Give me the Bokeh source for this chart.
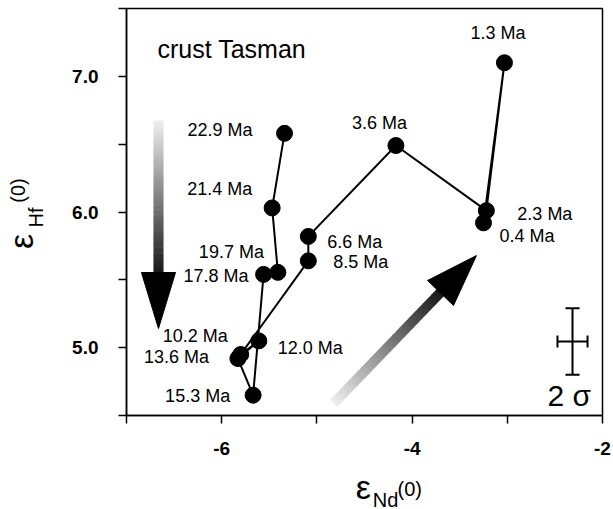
import numpy as np
from bokeh.plotting import figure
from bokeh.layouts import row, column
from bokeh.models import FixedTicker, ColumnDataSource
from bokeh.core.properties import value
from bokeh.embed import file_html
from bokeh.resources import INLINE

# ---- data (chronological order, oldest first) ----
ages = ["22.9 Ma", "21.4 Ma", "19.7 Ma", "17.8 Ma", "15.3 Ma", "13.6 Ma", "12.0 Ma",
        "10.2 Ma", "8.5 Ma", "6.6 Ma", "3.6 Ma", "2.3 Ma", "1.3 Ma", "0.4 Ma"]
eps_nd = [-5.34, -5.47, -5.41, -5.56, -5.67, -5.83, -5.61,
          -5.80, -5.09, -5.09, -4.17, -3.22, -3.03, -3.25]
eps_hf = [6.58, 6.03, 5.555, 5.54, 4.65, 4.92, 5.05,
          4.95, 5.64, 5.82, 6.49, 6.01, 7.10, 5.92]
# label offsets in pixels (style)
label_dx = [-97, -85, -79, -80, -88, -94, 19, -78, 25, 19, -44, 31, -34, 16]
label_dy = [-3, -19, -20, 2, 1, -2, 7, -18, 1, 6, -23, 3, -30, 13]

x_ticks = [-7, -6, -5, -4, -3, -2]
x_tick_labels = {-7: "", -6: "-6", -5: "", -4: "-4", -3: "", -2: "-2"}
y_ticks = [4.5, 5.0, 5.5, 6.0, 6.5, 7.0, 7.5]
y_tick_labels = {4.5: "", 5.0: "5.0", 5.5: "", 6.0: "6.0", 6.5: "", 7.0: "7.0", 7.5: ""}

# 2 sigma error bar
err_center = (-2.315, 5.045)
err_nd = 0.158
err_hf = 0.245

# decorative arrows (data units)
arrow1_x = -6.664
arrow1_top, arrow1_base, arrow1_tip = 6.674, 5.554, 5.141
arrow1_half = 0.179
arrow2_tail = (-4.826, 4.588)
arrow2_base = (-3.702, 5.407)
arrow2_tip = (-3.324, 5.679)
arrow2_c1 = (-3.838, 5.495)
arrow2_c2 = (-3.565, 5.311)

FONT = "Liberation Sans"

p = figure(width=553, height=465, x_range=(-7, -2), y_range=(4.5, 7.5),
           output_backend="svg", toolbar_location=None,
           min_border_left=66, min_border_right=11, min_border_top=8, min_border_bottom=50)
p.background_fill_color = "white"
p.border_fill_color = "white"
p.outline_line_color = "black"
p.outline_line_width = 1.5
p.xgrid.visible = False
p.ygrid.visible = False

for ax, ticks, labels in ((p.xaxis, x_ticks, x_tick_labels), (p.yaxis, y_ticks, y_tick_labels)):
    ax.ticker = FixedTicker(ticks=ticks)
    ax.major_label_overrides = labels
    ax.minor_tick_line_color = None
    ax.major_tick_in = 0
    ax.major_tick_out = 8
    ax.axis_line_width = 1.5
    ax.major_tick_line_width = 1.5
    ax.major_label_text_font = FONT
    ax.major_label_text_font_size = "19px"
    ax.major_label_text_font_style = "bold"
    ax.major_label_text_color = "black"
p.yaxis.major_label_standoff = 20
p.xaxis.major_label_standoff = 18
p.yaxis.major_label_orientation = "horizontal"

# gradient shafts
def shaft(x0, y0, x1, y1, n=60):
    t = np.linspace(0, 1, n + 1)
    xs = x0 + (x1 - x0) * t
    ys = y0 + (y1 - y0) * t
    g = np.linspace(238, 25, n).astype(int)
    cols = ["#%02x%02x%02x" % (v, v, v) for v in g]
    p.segment(xs[:-1], ys[:-1], xs[1:] + (x1 - x0) * 0.004, ys[1:] + (y1 - y0) * 0.004,
              line_color=cols, line_width=10, line_cap="butt")

shaft(arrow1_x, arrow1_top, arrow1_x, arrow1_base)
p.patch([arrow1_x - arrow1_half, arrow1_x + arrow1_half, arrow1_x],
        [arrow1_base, arrow1_base, arrow1_tip], color="black")
shaft(arrow2_tail[0], arrow2_tail[1], arrow2_base[0], arrow2_base[1])
p.patch([arrow2_c1[0], arrow2_tip[0], arrow2_c2[0]],
        [arrow2_c1[1], arrow2_tip[1], arrow2_c2[1]], color="black")

# data line and points
src = ColumnDataSource(dict(x=eps_nd, y=eps_hf, age=ages, dx=label_dx, dy=label_dy))
p.line("x", "y", source=src, line_color="black", line_width=2)
p.scatter("x", "y", source=src, size=16, fill_color="black", line_color="black")
p.text("x", "y", text="age", x_offset="dx", y_offset="dy", source=src,
       text_font=value(FONT), text_font_size=value("18px"), text_color="black",
       text_align="left", text_baseline="middle")

# error bar
cx, cy = err_center
p.segment([cx, cx - err_nd], [cy - err_hf, cy], [cx, cx + err_nd], [cy + err_hf, cy],
          line_color="black", line_width=2)
capx = 0.074
capy = 0.044
p.segment([cx - capx, cx - capx, cx - err_nd, cx + err_nd],
          [cy + err_hf, cy - err_hf, cy - capy, cy - capy],
          [cx + capx, cx + capx, cx - err_nd, cx + err_nd],
          [cy + err_hf, cy - err_hf, cy + capy, cy + capy],
          line_color="black", line_width=2)
p.text([-2.578], [4.648], text=["2 σ"], text_font=value(FONT), text_font_size=value("30px"),
       text_align="left", text_baseline="alphabetic", text_color="black")

# panel title
p.text([-6.674], [7.202], text=["crust Tasman"], text_font=value(FONT),
       text_font_size=value("25px"), text_align="left", text_baseline="alphabetic",
       text_color="black")

# ---- axis titles in small side figures (page-pixel coordinates) ----
def blank(w, h, xr, yr):
    f = figure(width=w, height=h, x_range=xr, y_range=yr, output_backend="svg",
               toolbar_location=None, x_axis_type=None, y_axis_type=None,
               min_border=0, min_border_left=0, min_border_right=0,
               min_border_top=0, min_border_bottom=0)
    f.outline_line_color = None
    f.xgrid.visible = False
    f.ygrid.visible = False
    f.background_fill_color = "white"
    f.border_fill_color = "white"
    return f

left = blank(60, 509, (0, 60), (509, 0))
bottom = blank(553, 44, (60, 613), (509, 465))

def ttl(f, x, y, t, size, angle=0.0):
    f.text([x], [y], text=[t], text_font=value(FONT), text_font_size=value(size),
           text_align="center", text_baseline="middle", angle=angle, text_color="black")

ttl(bottom, 335, 486, "ε", "34px")
ttl(bottom, 361, 499, "Nd", "20px")
ttl(bottom, 389, 488, "(0)", "20px")
ttl(left, 20, 241, "ε", "34px", np.pi / 2)
ttl(left, 35, 217, "Hf", "20px", np.pi / 2)
ttl(left, 17, 190, "(0)", "20px", np.pi / 2)

layout = row(left, column(p, bottom, spacing=0), spacing=0)
open("out.html", "w").write(file_html(layout, INLINE))
